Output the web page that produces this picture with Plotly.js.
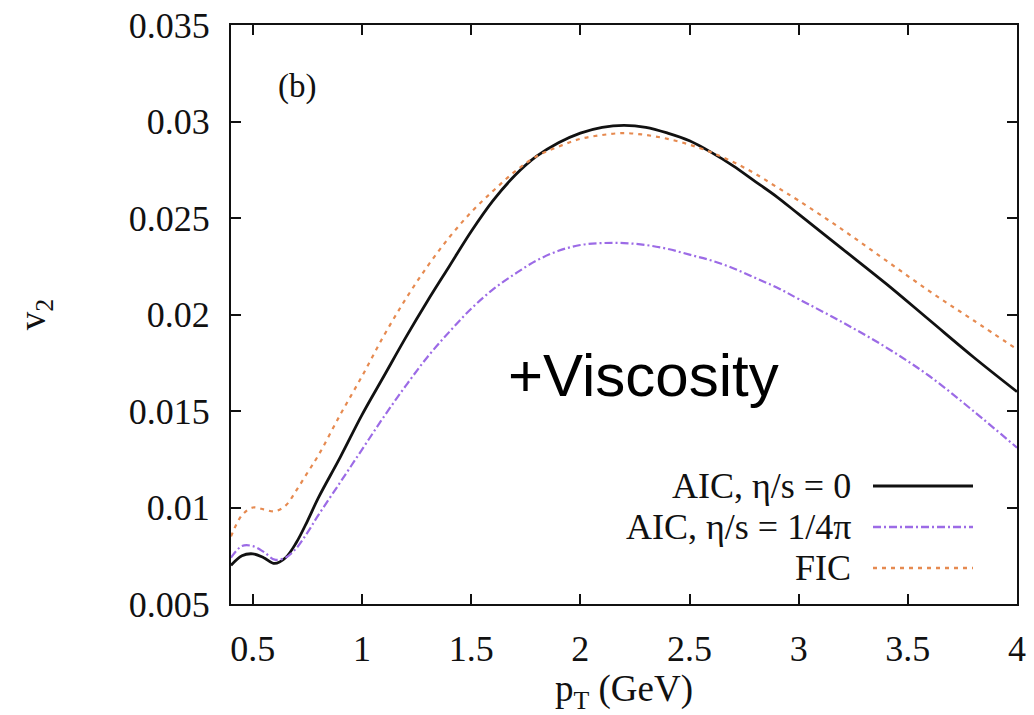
<!DOCTYPE html>
<html>
<head>
<meta charset="utf-8">
<script src="https://cdn.plot.ly/plotly-3.0.1.min.js"></script>
<style>html,body{margin:0;padding:0;background:#fff;}#chart{width:1034px;height:715px;}</style>
</head>
<body>
<div id="chart"></div>
<script>
var pT = [0.40, 0.45, 0.50, 0.55, 0.60, 0.65, 0.70, 0.75, 0.80, 0.90, 1.00, 1.10, 1.20, 1.30, 1.40, 1.50, 1.60, 1.70, 1.80, 1.90, 2.00, 2.10, 2.20, 2.30, 2.40, 2.50, 2.60, 2.70, 2.80, 2.90, 3.00, 3.20, 3.40, 3.60, 3.80, 4.00];
var v2_AIC_ideal = [0.0070, 0.0075, 0.0076, 0.0074, 0.0071, 0.0074, 0.0082, 0.0093, 0.0105, 0.0126, 0.0148, 0.0168, 0.0188, 0.0207, 0.0225, 0.0243, 0.0259, 0.0272, 0.0282, 0.0289, 0.0294, 0.0297, 0.0298, 0.0297, 0.0294, 0.0290, 0.0284, 0.0277, 0.0269, 0.0261, 0.0252, 0.0234, 0.0216, 0.0197, 0.0178, 0.0160];
var v2_AIC_visc = [0.0074, 0.0080, 0.0080, 0.0077, 0.0073, 0.0074, 0.0079, 0.0087, 0.0096, 0.0113, 0.0130, 0.0147, 0.0163, 0.0178, 0.0191, 0.0203, 0.0213, 0.0221, 0.0228, 0.0233, 0.0236, 0.0237, 0.0237, 0.0236, 0.0234, 0.0231, 0.0228, 0.0224, 0.0219, 0.0214, 0.0208, 0.0196, 0.0183, 0.0168, 0.0150, 0.0131];
var v2_FIC = [0.0085, 0.0096, 0.0100, 0.0099, 0.0098, 0.0101, 0.0109, 0.0118, 0.0127, 0.0148, 0.0168, 0.0189, 0.0208, 0.0225, 0.0240, 0.0253, 0.0264, 0.0274, 0.0282, 0.0287, 0.0291, 0.0293, 0.0294, 0.0293, 0.0291, 0.0288, 0.0284, 0.0279, 0.0273, 0.0266, 0.0259, 0.0244, 0.0228, 0.0212, 0.0197, 0.0182];
var seriesNames = ["AIC, η/s = 0", "AIC, η/s = 1/4π", "FIC"];
var seriesColors = ["#111111", "#9c6be6", "#e68a50"];
var seriesDash = ["solid", "8px,3px,2px,3px", "4px,5px"];
var seriesWidth = [2.8, 2.2, 2.2];
var annotationText = "+Viscosity";
var panelLabel = "(b)";

var serif = "Liberation Serif, Times New Roman, serif";
var ys = [v2_AIC_ideal, v2_AIC_visc, v2_FIC];
var traces = ys.map(function (y, i) {
  return {
    x: pT, y: y, type: "scatter", mode: "lines", name: seriesNames[i],
    line: {color: seriesColors[i], width: seriesWidth[i], dash: seriesDash[i], shape: "spline", smoothing: 1},
    showlegend: false, hoverinfo: "skip"
  };
});

var L = 231, R = 1017, T = 25, B = 604;
var legY = [486, 527, 568];
var annotations = [];
var shapes = [];
function px2x(p) { return (p - L) / (R - L); }
function py2y(p) { return (B - p) / (B - T); }
for (var i = 0; i < 3; i++) {
  annotations.push({
    xref: "paper", yref: "paper", x: px2x(853), y: py2y(legY[i]),
    xanchor: "right", yanchor: "middle", showarrow: false,
    text: seriesNames[i], font: {family: serif, size: 36, color: "#111"}
  });
  shapes.push({
    type: "line", xref: "paper", yref: "paper",
    x0: px2x(873), x1: px2x(973), y0: py2y(legY[i]), y1: py2y(legY[i]),
    line: {color: seriesColors[i], width: seriesWidth[i] + 0.3, dash: seriesDash[i]}
  });
}
annotations.push({
  xref: "paper", yref: "paper", x: px2x(643), y: py2y(376),
  xanchor: "center", yanchor: "middle", showarrow: false,
  text: annotationText, font: {family: "Liberation Sans, Arial, sans-serif", size: 60, color: "#000"}
});
annotations.push({
  xref: "paper", yref: "paper", x: px2x(297), y: py2y(86),
  xanchor: "center", yanchor: "middle", showarrow: false,
  text: panelLabel, font: {family: serif, size: 33, color: "#111"}
});

var axisCommon = {
  showgrid: false, zeroline: false, showline: true, linecolor: "#111", linewidth: 2,
  mirror: "ticks", ticks: "inside", ticklen: 10, tickwidth: 2, tickcolor: "#111",
  tickfont: {family: serif, size: 36, color: "#111"}, automargin: false
};

var layout = {
  width: 1034, height: 715,
  margin: {l: L, r: 1034 - R, t: T, b: 715 - B},
  paper_bgcolor: "#fff", plot_bgcolor: "#fff",
  xaxis: Object.assign({}, axisCommon, {
    range: [0.4, 4], tick0: 0, dtick: 0.5, ticklabelstandoff: 12,
    title: {text: "p<sub>T</sub> (GeV)", font: {family: serif, size: 37, color: "#111"}, standoff: 8}
  }),
  yaxis: Object.assign({}, axisCommon, {
    range: [0.005, 0.035], tick0: 0, dtick: 0.005, ticklabelstandoff: 12,
    title: {text: "v<sub>2</sub>", font: {family: serif, size: 37, color: "#111"}, standoff: 72}
  }),
  annotations: annotations,
  shapes: shapes,
  showlegend: false
};

Plotly.newPlot("chart", traces, layout, {displayModeBar: false, staticPlot: true});
</script>
</body>
</html>
